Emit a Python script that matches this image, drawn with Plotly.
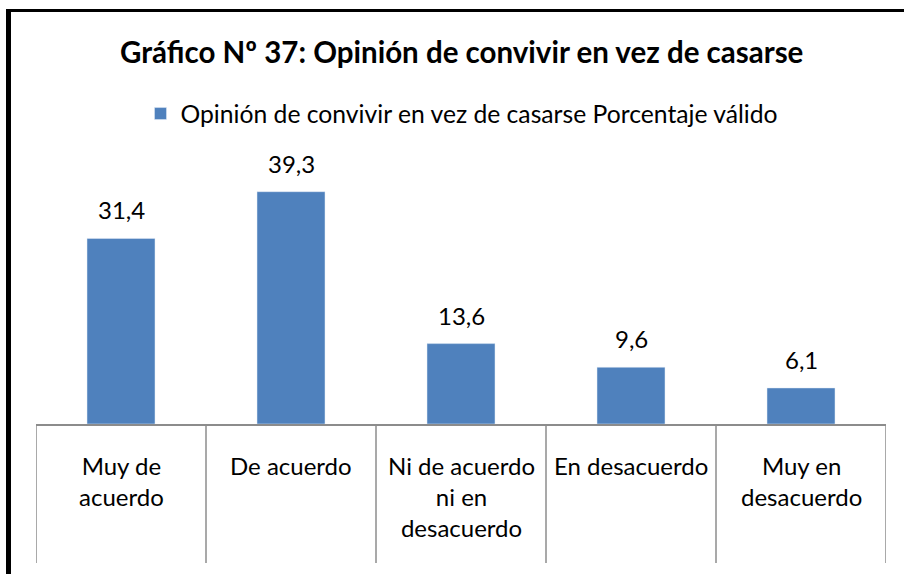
import plotly.graph_objects as go

categories = ["Muy de<br>acuerdo", "De acuerdo", "Ni de acuerdo<br>ni en<br>desacuerdo",
              "En desacuerdo", "Muy en<br>desacuerdo"]
values = [31.4, 39.3, 13.6, 9.6, 6.1]
series_name = "Opinión de convivir en vez de casarse Porcentaje válido"
title_text = "Gráfico Nº 37: Opinión de convivir en vez de casarse"

W, H = 904, 574
L, R, T, B = 36, 18, 158, 150
plot_h = H - T - B
plot_w = W - L - R
FONT = "Lato, Carlito, Calibri, sans-serif"
BLUE = "#4f81bd"
GRID = "#8c8c8c"

def py(pix):
    """page pixel y -> paper y"""
    return (H - B - pix) / plot_h

def px(pix):
    return (pix - L) / plot_w

xs = list(range(len(values)))

fig = go.Figure()
fig.add_trace(go.Bar(x=xs, y=values, width=0.4, marker_color=BLUE,
                     name=series_name, showlegend=True))

annotations = []
# value labels above bars
for i, v in enumerate(values):
    annotations.append(dict(x=i, y=v, xref="x", yref="y", text=f"{v:.1f}".replace(".", ","),
                            showarrow=False, yanchor="bottom", yshift=12,
                            font=dict(family=FONT, size=24, color="#000")))
# category labels below axis
for i, c in enumerate(categories):
    annotations.append(dict(x=i, y=py(449), xref="x", yref="paper", text=c,
                            showarrow=False, yanchor="top", xanchor="center",
                            align="center",
                            font=dict(family=FONT, size=24, color="#000")))
# title
annotations.append(dict(x=px(461), y=py(51), xref="paper", yref="paper", text=f"<b>{title_text}</b>",
                        showarrow=False, yanchor="middle", xanchor="center",
                        font=dict(family=FONT, size=29.5, color="#000")))

shapes = []
# category dividers
for b in [i - 0.5 for i in range(len(values) + 1)]:
    shapes.append(dict(type="line", xref="x", yref="paper", x0=b, x1=b,
                       y0=0, y1=py(563), line=dict(color=GRID, width=1.5)))
# frame (left and top edges)
shapes.append(dict(type="line", xref="paper", yref="paper", x0=px(8.5), x1=px(8.5),
                   y0=py(580), y1=py(9), line=dict(color="#000", width=5)))
shapes.append(dict(type="line", xref="paper", yref="paper", x0=px(6), x1=px(910),
                   y0=py(10.5), y1=py(10.5), line=dict(color="#000", width=3)))

fig.update_layout(
    width=W, height=H,
    margin=dict(l=L, r=R, t=T, b=B),
    paper_bgcolor="white", plot_bgcolor="white",
    showlegend=True,
    legend=dict(orientation="h", x=px(462), xanchor="center", y=py(114), yanchor="middle",
                font=dict(family=FONT, size=24.7, color="#000"), itemwidth=30,
                bgcolor="rgba(0,0,0,0)"),
    xaxis=dict(range=[-0.5, len(values) - 0.5], showticklabels=False, ticks="",
               showgrid=False, zeroline=False, showline=True, linecolor=GRID, linewidth=1.5),
    yaxis=dict(range=[0, 45], visible=False, showgrid=False, zeroline=False),
    annotations=annotations,
    shapes=shapes,
    bargap=0.6,
)

fig.write_html("out.html")
